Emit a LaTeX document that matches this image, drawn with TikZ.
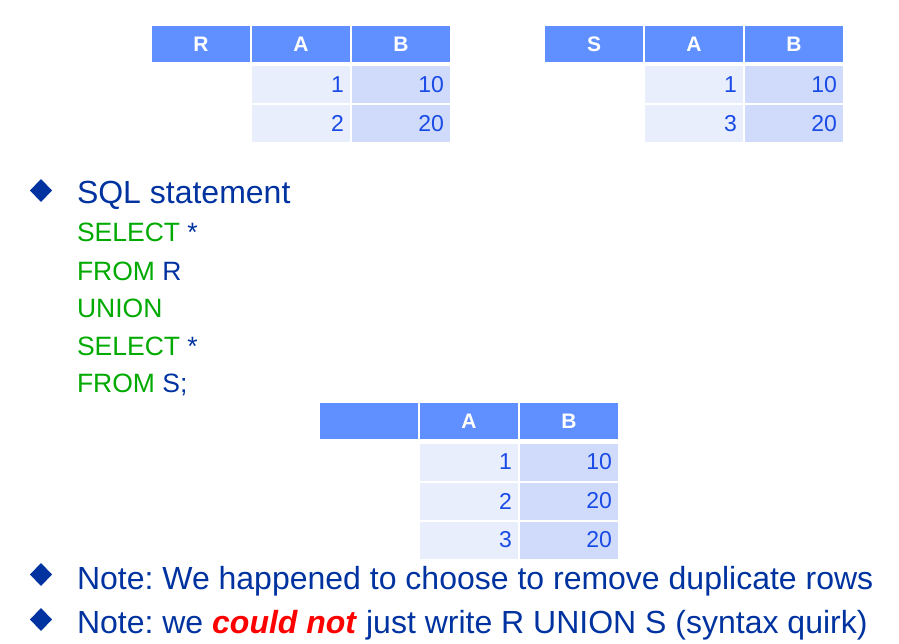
\documentclass[tikz,border=0pt]{standalone}
\usepackage{fontspec}
\setmainfont{Liberation Sans}
\usetikzlibrary{shapes.geometric}
\definecolor{hdrblue}{RGB}{96,144,255}
\definecolor{cellA}{RGB}{232,238,252}
\definecolor{cellB}{RGB}{208,219,252}
\definecolor{numblue}{RGB}{25,75,230}
\definecolor{textblue}{RGB}{0,51,160}
\definecolor{codegreen}{RGB}{0,170,0}
\frenchspacing
\begin{document}
\begin{tikzpicture}[x=1pt,y=-1pt,inner sep=0pt,outer sep=0pt,
hdrcell/.style={rectangle,fill=hdrblue,minimum width=98pt,minimum height=36pt,text=white,font=\fontsize{21}{25}\selectfont\bfseries},
acell/.style={rectangle,fill=cellA,text width=86pt,inner xsep=6pt,minimum height=37pt,align=right,text=numblue,font=\fontsize{23}{27}\selectfont},
bcell/.style={acell,fill=cellB},
bullet/.style={diamond,fill=textblue,minimum width=22pt,minimum height=23pt},
bigtext/.style={anchor=base west,text=textblue,font=\fontsize{32}{38}\selectfont},
codetext/.style={anchor=base west,text=textblue,font=\fontsize{26.5}{31}\selectfont}]
\useasboundingbox (0,0) rectangle (899,644);

% table R
\draw (201,44.5) node[hdrcell] (rname) {R};
\draw (301,44.5) node[hdrcell] (ra) {A};
\draw (401,44.5) node[hdrcell] (rb) {B};
\draw (301,85) node[acell] (ra1) {1};
\draw (401,85) node[bcell] (rb1) {10};
\draw (301,123.5) node[acell] (ra2) {2};
\draw (401,123.5) node[bcell] (rb2) {20};

% table S
\draw (594,44.5) node[hdrcell] (sname) {S};
\draw (694,44.5) node[hdrcell] (sa) {A};
\draw (794,44.5) node[hdrcell] (sb) {B};
\draw (694,85) node[acell] (sa1) {1};
\draw (794,85) node[bcell] (sb1) {10};
\draw (694,123.5) node[acell] (sa2) {3};
\draw (794,123.5) node[bcell] (sb2) {20};

% SQL statement
\draw (41,190.5) node[bullet] (bul1) {};
\draw (77,204) node[bigtext] (sqlhead) {SQL statement};
\draw (77,242) node[codetext] (code1) {\textcolor{codegreen}{SELECT} *};
\draw (77,280) node[codetext] (code2) {\textcolor{codegreen}{FROM} R};
\draw (77,317) node[codetext] (code3) {\textcolor{codegreen}{UNION}};
\draw (77,355) node[codetext] (code4) {\textcolor{codegreen}{SELECT} *};
\draw (77,392) node[codetext] (code5) {\textcolor{codegreen}{FROM} S;};

% result
\draw (369,421) node[hdrcell] (tname) {};
\draw (469,421) node[hdrcell] (ta) {A};
\draw (569,421) node[hdrcell] (tb) {B};
\draw (469,462) node[acell] (ta1) {1};
\draw (569,462) node[bcell] (tb1) {10};
\draw (469,501) node[acell] (ta2) {2};
\draw (569,501) node[bcell] (tb2) {20};
\draw (469,540) node[acell] (ta3) {3};
\draw (569,540) node[bcell] (tb3) {20};

% notes
\draw (41,574.5) node[bullet] (bul2) {};
\draw (77,589) node[bigtext] (note1) {Note: We happened to choose to remove duplicate rows};
\draw (41,619.5) node[bullet] (bul3) {};
\draw (77,633) node[bigtext] (note2) {Note: we \textcolor{red}{\textbf{\textit{could not}}} just write R UNION S (syntax quirk)};
\end{tikzpicture}
\end{document}
